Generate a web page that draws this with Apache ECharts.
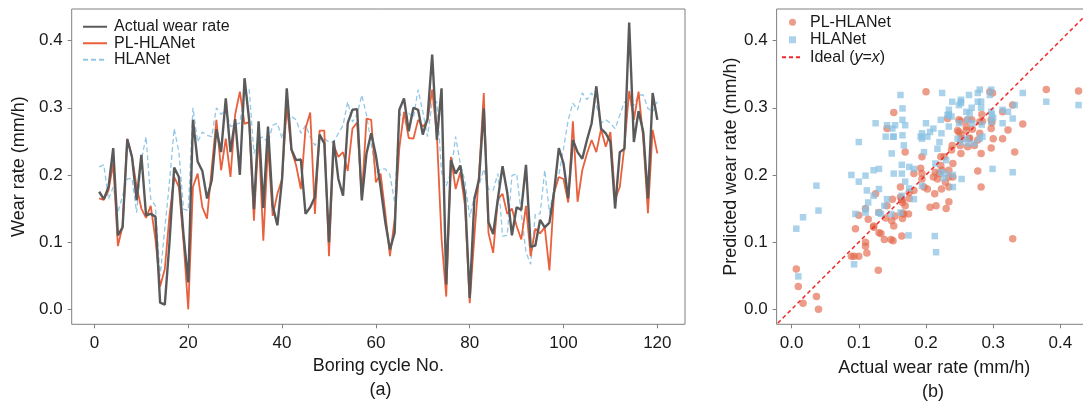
<!DOCTYPE html>
<html>
<head>
<meta charset="utf-8">
<script src="https://cdn.jsdelivr.net/npm/echarts@6/dist/echarts.min.js"></script>
<style>
html,body{margin:0;padding:0;background:#fff;}
#chart{width:1083px;height:406px;}
</style>
</head>
<body>
<div id="chart"></div>
<script>
// Boring cycle numbers
const cycles = Array.from({length: 120}, (_, i) => i + 1);

// Actual wear rate (mm/h)
const actualWear = [
0.175,0.164,0.182,0.240,0.110,0.122,0.253,0.227,0.162,0.230,
0.140,0.142,0.138,0.010,0.007,0.100,0.211,0.197,0.110,0.040,
0.282,0.220,0.206,0.165,0.192,0.268,0.234,0.314,0.234,0.283,
0.200,0.344,0.280,0.149,0.280,0.151,0.272,0.154,0.125,0.194,
0.329,0.238,0.222,0.223,0.142,0.152,0.167,0.260,0.247,0.100,
0.251,0.194,0.169,0.277,0.297,0.298,0.162,0.232,0.262,0.229,
0.182,0.130,0.089,0.114,0.297,0.314,0.265,0.300,0.297,0.260,
0.284,0.379,0.252,0.329,0.037,0.222,0.202,0.214,0.169,0.017,
0.164,0.194,0.299,0.130,0.112,0.164,0.213,0.174,0.110,0.152,
0.148,0.215,0.093,0.095,0.133,0.122,0.129,0.175,0.240,0.217,
0.165,0.252,0.234,0.224,0.252,0.277,0.332,0.269,0.262,0.249,
0.150,0.234,0.239,0.427,0.249,0.295,0.264,0.165,0.322,0.282
];

// PL-HLANet predictions (mm/h)
const plHlanet = [
0.165,0.163,0.177,0.217,0.094,0.124,0.254,0.227,0.182,0.150,
0.136,0.154,0.104,0.034,0.060,0.140,0.197,0.182,0.100,0.000,
0.182,0.202,0.152,0.135,0.210,0.282,0.207,0.254,0.197,0.290,
0.324,0.276,0.279,0.132,0.262,0.102,0.244,0.139,0.172,0.194,
0.304,0.237,0.214,0.179,0.269,0.293,0.142,0.266,0.266,0.079,
0.244,0.227,0.234,0.206,0.269,0.278,0.167,0.284,0.282,0.189,
0.202,0.144,0.079,0.134,0.240,0.294,0.255,0.254,0.282,0.272,
0.280,0.327,0.260,0.105,0.019,0.227,0.179,0.204,0.154,0.009,
0.109,0.202,0.322,0.114,0.084,0.164,0.172,0.142,0.150,0.124,
0.104,0.154,0.079,0.120,0.113,0.122,0.058,0.174,0.197,0.194,
0.159,0.280,0.160,0.207,0.232,0.252,0.234,0.268,0.242,0.264,
0.164,0.182,0.244,0.325,0.282,0.324,0.254,0.143,0.267,0.232
];

// HLANet predictions (mm/h)
const hlanet = [
0.212,0.215,0.164,0.182,0.144,0.169,0.194,0.195,0.144,0.222,
0.257,0.164,0.154,0.049,0.120,0.190,0.269,0.234,0.149,0.147,
0.300,0.249,0.264,0.259,0.257,0.300,0.290,0.297,0.272,0.275,
0.277,0.322,0.327,0.232,0.254,0.257,0.247,0.274,0.277,0.254,
0.284,0.287,0.282,0.262,0.274,0.257,0.244,0.254,0.254,0.249,
0.249,0.262,0.274,0.309,0.279,0.290,0.319,0.289,0.247,0.202,
0.209,0.209,0.200,0.159,0.294,0.277,0.292,0.285,0.327,0.294,
0.257,0.309,0.309,0.204,0.184,0.204,0.257,0.217,0.190,0.137,
0.169,0.184,0.209,0.179,0.177,0.202,0.109,0.110,0.199,0.202,
0.142,0.085,0.067,0.142,0.142,0.207,0.144,0.180,0.200,0.239,
0.282,0.307,0.297,0.322,0.312,0.322,0.304,0.277,0.282,0.277,
0.269,0.289,0.309,0.304,0.304,0.319,0.319,0.299,0.294,0.309
];

// Tick labels
const xTicksA = [0, 20, 40, 60, 80, 100, 120];
const yTicks = [0.0, 0.1, 0.2, 0.3, 0.4];
const xTicksB = [0.0, 0.1, 0.2, 0.3, 0.4];
// Ideal line y = x end points (clipped to the plot)
const idealEnds = [-0.05, 0.5];

const FONT = "'Liberation Sans', Arial, Helvetica, sans-serif";
const TXT = '#1a1a1a';
const FRAME = '#808080';

const plScatter = actualWear.map((a, i) => [a, plHlanet[i]]);
const hlScatter = actualWear.map((a, i) => [a, hlanet[i]]);
const idealData = idealEnds.map(v => [v, v]);

const chart = echarts.init(document.getElementById('chart'), null, {renderer: 'canvas'});

function valueAxisCommon(extra) {
  return Object.assign({
    type: 'value',
    splitLine: {show: false},
    axisLine: {show: false, onZero: false},
    axisTick: {show: true, inside: false, length: 4, lineStyle: {color: FRAME, width: 1}},
    axisLabel: {color: TXT, fontSize: 17, fontFamily: FONT},
    nameTextStyle: {color: TXT, fontSize: 18, fontFamily: FONT},
    nameLocation: 'middle'
  }, extra);
}

const hiddenSymbol = {opacity: 0};

const option = {
  backgroundColor: '#ffffff',
  animation: false,
  textStyle: {fontFamily: FONT},
  title: [
    {text: '(a)', left: 369.5, top: 381, padding: 0,
     textStyle: {fontSize: 18, fontWeight: 'normal', color: TXT, fontFamily: FONT}},
    {text: '(b)', left: 922, top: 383, padding: 0,
     textStyle: {fontSize: 18, fontWeight: 'normal', color: TXT, fontFamily: FONT}}
  ],
  grid: [
    {left: 71.7, top: 9, width: 613.3, height: 315.3, show: true,
     borderColor: FRAME, borderWidth: 1, backgroundColor: 'transparent',
     containLabel: false, outerBoundsMode: 'none'},
    {left: 776.6, top: 9, width: 315.4, height: 315.3, show: true,
     borderColor: FRAME, borderWidth: 1, backgroundColor: 'transparent',
     containLabel: false, outerBoundsMode: 'none'}
  ],
  xAxis: [
    valueAxisCommon({
      gridIndex: 0, min: -4.85, max: 125.9,
      name: 'Boring cycle No.', nameGap: 33,
      axisTick: {show: true, inside: false, length: 4, customValues: xTicksA, lineStyle: {color: FRAME}},
      axisLabel: {color: TXT, fontSize: 17, fontFamily: FONT, margin: 11, customValues: xTicksA,
                  formatter: v => String(Math.round(v))}
    }),
    valueAxisCommon({
      gridIndex: 1, min: -0.0223, max: 0.447,
      name: 'Actual wear rate (mm/h)', nameGap: 35,
      axisTick: {show: true, inside: false, length: 4, customValues: xTicksB, lineStyle: {color: FRAME}},
      axisLabel: {color: TXT, fontSize: 17, fontFamily: FONT, margin: 11, customValues: xTicksB,
                  formatter: v => v.toFixed(1)}
    })
  ],
  yAxis: [
    valueAxisCommon({
      gridIndex: 0, min: -0.0223, max: 0.447,
      name: 'Wear rate (mm/h)', nameGap: 32,
      axisTick: {show: true, inside: false, length: 4, customValues: yTicks, lineStyle: {color: FRAME}},
      axisLabel: {color: TXT, fontSize: 17, fontFamily: FONT, margin: 9, customValues: yTicks,
                  formatter: v => v.toFixed(1)}
    }),
    valueAxisCommon({
      gridIndex: 1, min: -0.0223, max: 0.447,
      name: 'Predicted wear rate (mm/h)', nameGap: 36,
      axisTick: {show: true, inside: false, length: 4, customValues: yTicks, lineStyle: {color: FRAME}},
      axisLabel: {color: TXT, fontSize: 17, fontFamily: FONT, margin: 9, customValues: yTicks,
                  formatter: v => v.toFixed(1)}
    })
  ],
  legend: [
    {
      orient: 'vertical', left: 82, top: 18.5, padding: 0, itemGap: 0,
      itemWidth: 24, itemHeight: 10, selectedMode: false,
      itemStyle: hiddenSymbol,
      data: ['Actual wear rate', 'PL-HLANet', 'HLANet'],
      textStyle: {color: TXT, fontSize: 16, lineHeight: 16.5, fontFamily: FONT, padding: [0, 0, 0, 2]}
    },
    {
      orient: 'vertical', left: 781, top: 13.5, padding: 0, itemGap: 0,
      itemWidth: 21, itemHeight: 7, selectedMode: false,
      data: [
        {name: 'PL-HLANet (b)', icon: 'circle'},
        {name: 'HLANet (b)', icon: 'path://M0,0L10,0L10,10L0,10Z'},
        {name: 'Ideal (y=x)', itemStyle: hiddenSymbol}
      ],
      formatter: function (name) {
        return {'PL-HLANet (b)': 'PL-HLANet', 'HLANet (b)': 'HLANet',
                'Ideal (y=x)': 'Ideal ({i|y}={i|x})'}[name];
      },
      textStyle: {color: TXT, fontSize: 16, lineHeight: 17.5, fontFamily: FONT, padding: [0, 0, 0, 2],
                  rich: {i: {fontStyle: 'italic', fontSize: 16, fontFamily: FONT, color: TXT, lineHeight: 17.5}}}
    }
  ],
  series: [
    {
      name: 'HLANet', type: 'line', xAxisIndex: 0, yAxisIndex: 0,
      data: cycles.map((c, i) => [c, hlanet[i]]),
      symbol: 'none', smooth: false, z: 2,
      lineStyle: {color: '#92C8E6', width: 1.3, type: [5, 3]},
      itemStyle: {color: '#92C8E6'}
    },
    {
      name: 'PL-HLANet', type: 'line', xAxisIndex: 0, yAxisIndex: 0,
      data: cycles.map((c, i) => [c, plHlanet[i]]),
      symbol: 'none', smooth: false, z: 3,
      lineStyle: {color: '#E8603C', width: 1.8},
      itemStyle: {color: '#E8603C'}
    },
    {
      name: 'Actual wear rate', type: 'line', xAxisIndex: 0, yAxisIndex: 0,
      data: cycles.map((c, i) => [c, actualWear[i]]),
      symbol: 'none', smooth: false, z: 4,
      lineStyle: {color: '#5A5A5A', width: 2.4},
      itemStyle: {color: '#5A5A5A'}
    },
    {
      name: 'PL-HLANet (b)', type: 'scatter', xAxisIndex: 1, yAxisIndex: 1,
      data: plScatter, symbol: 'circle', symbolSize: 7.5, z: 2,
      itemStyle: {color: '#E2694A', opacity: 0.66}
    },
    {
      name: 'HLANet (b)', type: 'scatter', xAxisIndex: 1, yAxisIndex: 1,
      data: hlScatter, symbol: 'rect', symbolSize: 6.5, z: 3,
      itemStyle: {color: '#86C0E3', opacity: 0.7}
    },
    {
      name: 'Ideal (y=x)', type: 'line', xAxisIndex: 1, yAxisIndex: 1,
      data: idealData, symbol: 'none', z: 5, clip: true,
      lineStyle: {color: '#EE2A2A', width: 1.5, type: [4, 3]},
      itemStyle: {color: '#EE2A2A'}
    }
  ]
};

chart.setOption(option);
</script>
</body>
</html>
